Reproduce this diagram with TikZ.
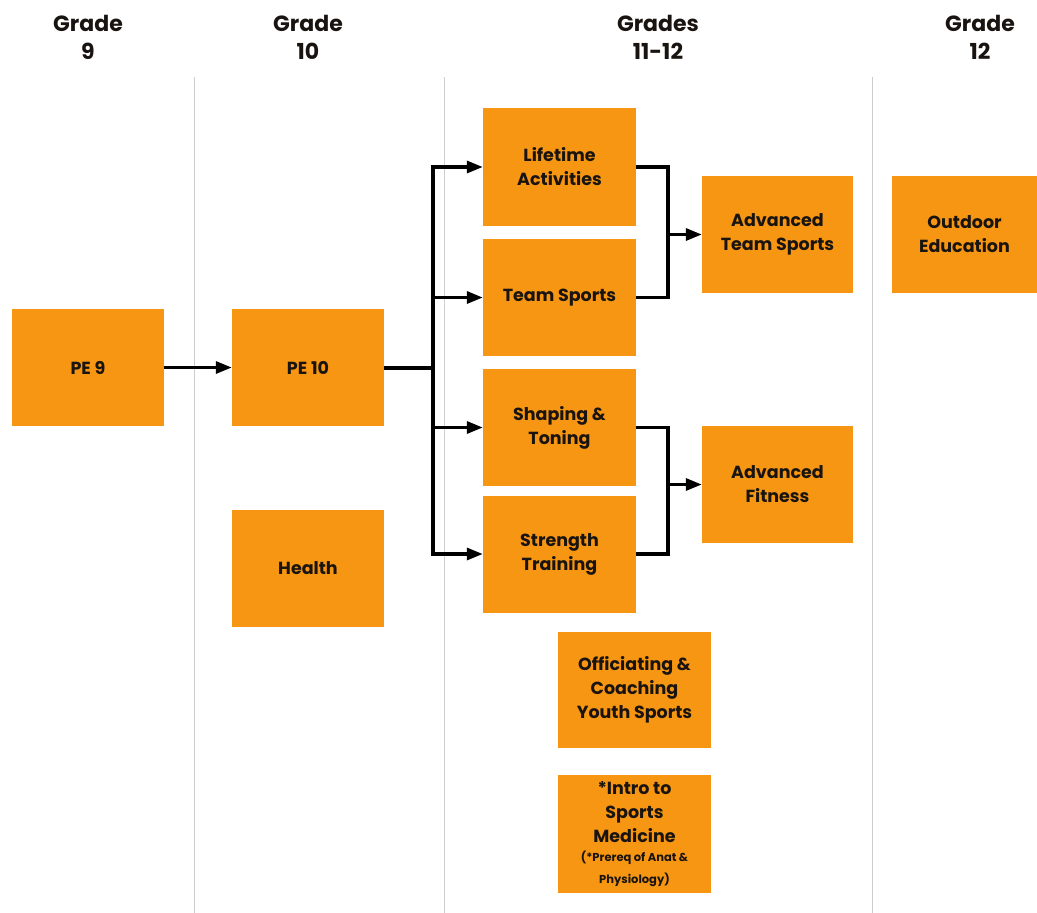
\documentclass[tikz,border=0pt]{standalone}
\usepackage{fontspec}
\setmainfont{Poppins}
\usetikzlibrary{arrows.meta}
\definecolor{boxorange}{RGB}{247,150,18}
\definecolor{txt}{RGB}{25,20,15}
\definecolor{sep}{RGB}{205,205,205}
\begin{document}
\begin{tikzpicture}[x=1pt,y=-1pt,
  course/.style={fill=boxorange,draw=none,minimum width=152pt,minimum height=117pt,
    align=center,text=txt,font=\fontsize{17.5}{24}\selectfont\bfseries,inner sep=2pt},
  header/.style={align=center,text=txt,font=\fontsize{22}{28}\selectfont\bfseries},
  conn/.style={line width=3.2pt,draw=black},
  arr/.style={conn,-{Triangle[length=16pt,width=12pt]}},
  sepline/.style={draw=sep,line width=1pt}]
\useasboundingbox (0,0) rectangle (1037,913);
% separators
\draw[sepline] (194,77) -- (194,913);
\draw[sepline] (444,77) -- (444,913);
\draw[sepline] (872,77) -- (872,913);
% headers
\node[header] (h9) at (88,37) {Grade\\9};
\node[header] (h10) at (308,37) {Grade\\10};
\node[header] (h11) at (658,37) {Grades\\11-12};
\node[header] (h12) at (980,37) {Grade\\12};
% boxes
\node[course] (pe9) at (88,367.5) {PE 9};
\node[course] (pe10) at (308,367.5) {PE 10};
\node[course] (health) at (308,568.5) {Health};
\node[course,minimum width=153pt,minimum height=118pt] (life) at (559.5,167) {Lifetime\\Activities};
\node[course,minimum width=153pt] (team) at (559.5,297.5) {Team Sports};
\node[course,minimum width=153pt] (shape) at (559.5,427.5) {Shaping \&\\Toning};
\node[course,minimum width=153pt] (strength) at (559.5,554) {Strength\\Training};
\node[course,minimum width=151pt] (advteam) at (777.5,234.5) {Advanced\\Team Sports};
\node[course,minimum width=151pt] (advfit) at (777.5,484.5) {Advanced\\Fitness};
\node[course,minimum width=145pt] (outdoor) at (964.5,234.5) {Outdoor\\Education};
\node[course,minimum width=153pt,minimum height=116pt] (offic) at (634.5,690) {Officiating \&\\Coaching\\Youth Sports};
\node[course,minimum width=153pt,minimum height=118pt] (intro) at (634.5,834)
  {\fontsize{17.5}{24}\selectfont *Intro to\\Sports\\Medicine\\[-5pt]
   {\fontsize{11.5}{15}\selectfont (*Prereq of Anat \&}\\[-2pt]
   {\fontsize{11.5}{15}\selectfont Physiology)}};
% connectors
\draw[arr] (pe9.east) -- (pe10.west);
\coordinate (br) at (433,367.5);
\draw[conn,line width=4pt] (pe10.east) -- (br);
\draw[arr] (br) |- (life.west);
\draw[arr] (br) |- (team.west);
\draw[arr] (br) |- (shape.west);
\draw[arr] (br) |- (strength.west);
\coordinate (m1) at (668,234.5);
\draw[conn] (life.east) -| (m1);
\draw[conn] (team.east) -| (m1);
\draw[arr] (m1) -- (advteam.west);
\coordinate (m2) at (668,484.5);
\draw[conn] (shape.east) -| (m2);
\draw[conn] (strength.east) -| (m2);
\draw[arr] (m2) -- (advfit.west);
\end{tikzpicture}
\end{document}
